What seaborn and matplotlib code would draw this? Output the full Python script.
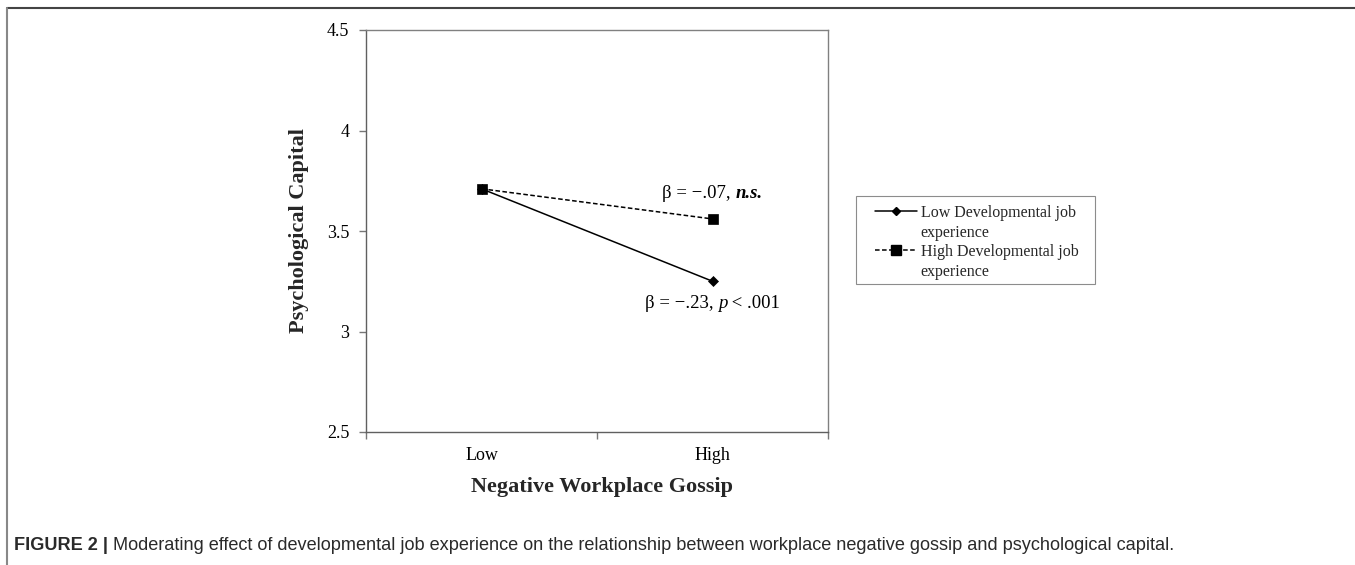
import matplotlib
matplotlib.use('Agg')
import pandas as pd
import matplotlib.pyplot as plt
import seaborn as sns
from matplotlib.lines import Line2D
from matplotlib.patches import Rectangle
from matplotlib.transforms import IdentityTransform

# %% data
gossip = ['Low', 'High']
low_dev = [3.71, 3.25]
high_dev = [3.71, 3.56]
group_names = ['Low Developmental job experience', 'High Developmental job experience']
legend_rows = ['Low Developmental job', 'experience', 'High Developmental job', 'experience']
y_ticks = [2.5, 3, 3.5, 4, 4.5]
y_ticklabels = ['2.5', '3', '3.5', '4', '4.5']
note_low = [('β = −.23, ', 'normal', 'normal'), ('p', 'italic', 'normal'), (' < .001', 'normal', 'normal')]
note_high = [('β = −.07, ', 'normal', 'normal'), ('n.s.', 'italic', 'bold')]
caption = [('FIGURE 2 | ', 'normal', 'bold'),
           ('Moderating effect of developmental job experience on the relationship between '
            'workplace negative gossip and psychological capital.', 'normal', 'normal')]

pos = list(range(len(gossip)))
df = pd.DataFrame({
    'pos': pos * 2,
    'capital': low_dev + high_dev,
    'group': [group_names[0]] * 2 + [group_names[1]] * 2,
})

# %% style
sns.set_theme(style='ticks')
plt.rcParams['font.family'] = ['Liberation Serif', 'DejaVu Serif']
SERIF = 'Liberation Serif'
W, H = 1355, 565

fig = plt.figure(figsize=(W / 100, H / 100), dpi=100)
fig.patch.set_facecolor('white')
ax = fig.add_axes([366 / W, 1 - 432 / H, (828 - 366) / W, (432 - 30) / H])

markers = {group_names[0]: 'D', group_names[1]: 's'}
dashes = {group_names[0]: '', group_names[1]: (3, 1.6)}
sizes = {group_names[0]: 5, group_names[1]: 7}
for g in group_names:
    sns.lineplot(data=df[df.group == g], x='pos', y='capital', ax=ax, color='black',
                 marker=markers[g], markersize=sizes[g], markeredgecolor='black',
                 markeredgewidth=0.5, linewidth=1.1, legend=False)
    if dashes[g]:
        ax.lines[-1].set_dashes(dashes[g])
    else:
        ax.lines[-1].set_linestyle('-')

ax.set_xlim(-0.5, len(gossip) - 0.5)
ax.set_ylim(y_ticks[0], y_ticks[-1])
ax.set_xticks([p - 0.5 for p in pos] + [pos[-1] + 0.5])
ax.set_xticklabels([])
ax.set_xticks(pos, minor=True)
ax.set_xticklabels(gossip, minor=True)
ax.set_yticks(y_ticks)
ax.set_yticklabels(y_ticklabels)
ax.tick_params(axis='x', which='major', length=5, width=1, color='#777777', direction='out')
ax.tick_params(axis='x', which='minor', length=0, pad=11, labelsize=13)
ax.tick_params(axis='y', length=5, width=1, color='#777777', direction='out', pad=7, labelsize=13)
for lab in ax.get_xticklabels(minor=True) + ax.get_yticklabels():
    lab.set_family(SERIF)
    lab.set_color('black')
for side in ['left', 'right', 'top', 'bottom']:
    ax.spines[side].set_visible(True)
    ax.spines[side].set_color('#808080')
    ax.spines[side].set_linewidth(1)
ax.spines['left'].set_color('#606060')
ax.spines['bottom'].set_color('#606060')
ax.set_xlabel('Negative Workplace Gossip', fontsize=16, fontweight='bold', family=SERIF, va='center')
ax.set_ylabel('Psychological Capital', fontsize=16, fontweight='bold', family=SERIF, va='center')
ax.xaxis.set_label_coords(0.511, -0.137)
ax.yaxis.set_label_coords(-0.144, 0.5)

# %% legend (box drawn by hand, Excel-like)
fig.patches.append(Rectangle((856, H - 284), 239, 88, transform=IdentityTransform(),
                             fill=False, edgecolor='#8c8c8c', linewidth=0.8))
blank = Line2D([], [], color='none')
handles = [Line2D([], [], color='black', lw=1.1, ls='-', marker='D', ms=4.5),
           blank,
           Line2D([], [], color='black', lw=1.1, ls=(0, (3, 1.6)), marker='s', ms=6.5),
           blank]
fig.legend(handles, legend_rows, loc='upper left', bbox_to_anchor=(875 / W, 1 - 205 / H),
           bbox_transform=fig.transFigure, frameon=False, borderpad=0, borderaxespad=0,
           handlelength=2.6, handletextpad=0.25, labelspacing=0.22,
           prop={'family': SERIF, 'size': 11.5})

# %% text runs
renderer = fig.canvas.get_renderer()


def advance(s, **kw):
    t = fig.text(0, 0, '|' + s + '|', transform=IdentityTransform(), **kw)
    t2 = fig.text(0, 0, '||', transform=IdentityTransform(), **kw)
    w = t.get_window_extent(renderer).width - t2.get_window_extent(renderer).width
    t.remove()
    t2.remove()
    return w


def draw_runs(x, y, runs, center=False, **kw):
    widths = [advance(s, fontstyle=st, fontweight=wt, **kw) for s, st, wt in runs]
    if center:
        x = x - sum(widths) / 2
    for (s, st, wt), w in zip(runs, widths):
        fig.text(x, y, s, transform=IdentityTransform(), fontstyle=st, fontweight=wt,
                 va='center', ha='left', **kw)
        x += w


px_high = ax.transData.transform((pos[-1], high_dev[-1]))
px_low = ax.transData.transform((pos[-1], low_dev[-1]))
draw_runs(px_high[0], px_high[1] + 25, note_high, center=True, family=SERIF, fontsize=13.5, color='black')
draw_runs(px_low[0], px_low[1] - 22, note_low, center=True, family=SERIF, fontsize=13.5, color='black')
draw_runs(14, H - 545, caption, family='Liberation Sans', fontsize=13.1, color='#2a2a2a')

# outer frame of the figure panel
fig.add_artist(Line2D([7 / W, 1], [1 - 8 / H, 1 - 8 / H], transform=fig.transFigure,
                      color='#444444', lw=1.5))
fig.add_artist(Line2D([7 / W, 7 / W], [0, 1 - 8 / H], transform=fig.transFigure,
                      color='#888888', lw=1.5))

fig.savefig('out.png', dpi=100)
